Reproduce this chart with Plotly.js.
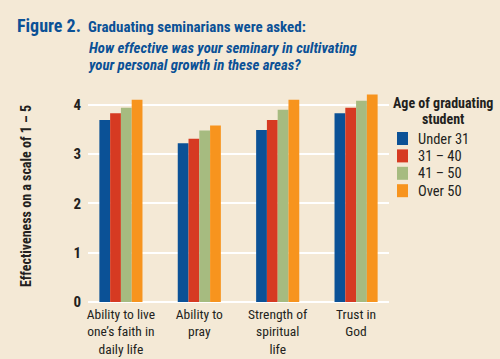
<!DOCTYPE html>
<html><head><meta charset="utf-8">
<script src="https://cdn.plot.ly/plotly-3.0.1.min.js"></script>
<style>html,body{margin:0;padding:0;background:#f4e9d6;}</style>
</head><body><div id="chart" style="width:500px;height:359px;"></div>
<script>
const categories = ["Ability to live<br>one’s faith in<br>daily life", "Ability to<br>pray", "Strength of<br>spiritual<br>life", "Trust in<br>God"];
const seriesNames = ["Under 31", "31 – 40", "41 – 50", "Over 50"];
const under31 = [3.69, 3.22, 3.49, 3.83];
const age31to40 = [3.83, 3.31, 3.69, 3.94];
const age41to50 = [3.94, 3.48, 3.90, 4.08];
const over50 = [4.10, 3.58, 4.10, 4.21];
const yTicks = [0, 1, 2, 3, 4];
const legendTitleLines = ["Age of graduating", "student"];
const questionLines = ["How effective was your seminary in cultivating", "your personal growth in these areas?"];

const colors = ["#0b5196", "#d63a22", "#a6bb80", "#f7941e"];
const values = [under31, age31to40, age41to50, over50];
const FONT = "Roboto Condensed, Lato, sans-serif";
const INK = "#231f20";
const BLUE = "#0b5196";

// layout geometry (pixels) -> paper coordinates
const W = 500, H = 359, M = {l: 88, r: 111, t: 90, b: 57};
const PW = W - M.l - M.r, PH = H - M.t - M.b;
const px = x => (x - M.l) / PW;
const py = y => (H - M.b - y) / PH;
const big = (s, size) => '<span style="font-size:' + size + 'px">' + s + '</span>';

const traces = values.map((v, i) => ({
  type: "bar", x: categories, y: v, name: seriesNames[i],
  marker: {color: colors[i], line: {width: 0}}, hoverinfo: "none"
}));

const annotations = [
  {x: px(15), y: py(25.5), xanchor: "left", yanchor: "middle", text: "<b>Figure 2.</b>", font: {family: FONT, size: 18, color: BLUE}},
  {x: px(86), y: py(27.3), xanchor: "left", yanchor: "middle", text: "<b>Graduating seminarians were asked:</b>", font: {family: FONT, size: 15, color: BLUE}},
  {x: px(86), y: py(37.5), xanchor: "left", yanchor: "top", align: "left",
   text: questionLines.map(s => "<b><i>" + big(s, 14.8) + "</i></b>").join("<br>"), font: {family: FONT, size: 13.2, color: BLUE}},
  {x: px(443), y: py(93), xanchor: "center", yanchor: "top", align: "center",
   text: legendTitleLines.map(s => "<b>" + big(s, 14) + "</b>").join("<br>"), font: {family: FONT, size: 12.3, color: INK}}
];
const shapes = [];
seriesNames.forEach((n, i) => {
  const cy = 138.5 + i * 17.4;
  shapes.push({type: "rect", xref: "paper", yref: "paper", x0: px(397), x1: px(408), y0: py(cy - 6.5), y1: py(cy + 6.5),
    fillcolor: colors[i], line: {width: 0}});
  annotations.push({x: px(416), y: py(cy + 0.5), xanchor: "left", yanchor: "middle", text: n, font: {family: FONT, size: 14.5, color: INK}});
});
annotations.forEach(a => { a.xref = "paper"; a.yref = "paper"; a.showarrow = false; });

const layout = {
  width: W, height: H,
  paper_bgcolor: "#f4e9d6", plot_bgcolor: "#f4e9d6",
  margin: Object.assign({autoexpand: false}, M),
  barmode: "group", bargap: 0.45, bargroupgap: 0,
  font: {family: FONT, color: INK, size: 13},
  showlegend: false,
  xaxis: {range: [-0.42, 3.42], showgrid: false, zeroline: false, showline: false, tickangle: 0,
    ticks: "", ticklabelstandoff: 2, tickfont: {family: FONT, size: 13.5, color: INK}, fixedrange: true},
  yaxis: {range: [0, 4.3], tickvals: yTicks, ticktext: yTicks.map(String),
    showgrid: true, gridcolor: "#ffffff", gridwidth: 2, zeroline: true, zerolinecolor: "#ffffff", zerolinewidth: 2,
    tickfont: {family: FONT, size: 15, color: INK, weight: "bold"}, ticklabelstandoff: 6,
    title: {text: "<b>Effectiveness on a scale of 1 – 5</b>", font: {family: FONT, size: 14, color: INK}, standoff: 38}},
  annotations: annotations,
  shapes: shapes
};
Plotly.newPlot("chart", traces, layout, {displayModeBar: false, staticPlot: true});
</script></body></html>
